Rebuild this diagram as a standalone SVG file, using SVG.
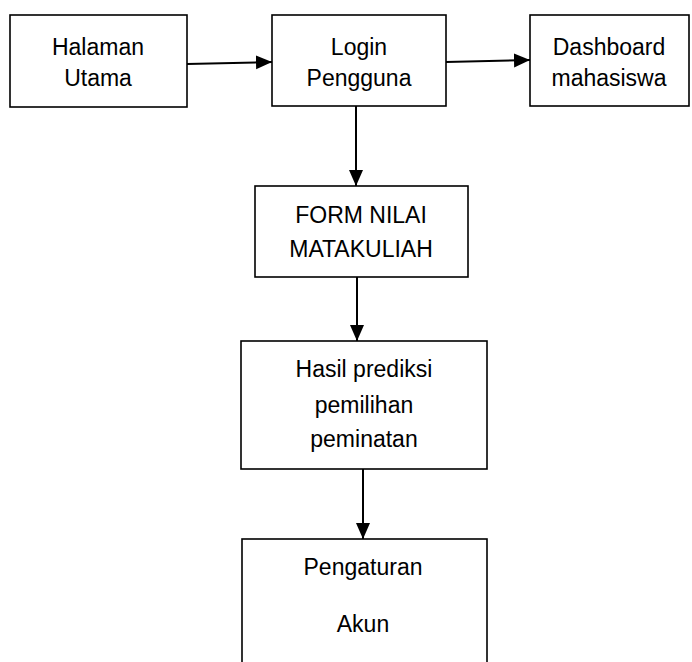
<svg xmlns="http://www.w3.org/2000/svg" width="692" height="662" viewBox="0 0 692 662">
<style>
.box{fill:#fff;stroke:#000;stroke-width:1.6}
.t{font-family:"Liberation Sans",Arial,sans-serif;font-size:23px;fill:#000;text-anchor:middle}
.c{stroke:#000;stroke-width:2;fill:none;marker-end:url(#ah)}
</style>
<defs>
<marker id="ah" markerUnits="userSpaceOnUse" markerWidth="16" markerHeight="16" viewBox="0 0 16 16" refX="16" refY="8" orient="auto">
<path d="M0,1 L16,8 L0,15 Z" fill="#000"/>
</marker>
</defs>
<rect width="692" height="662" fill="#fff"/>
<g id="connectors">
<line class="c" x1="187" y1="64" x2="272" y2="62"/>
<line class="c" x1="446" y1="62" x2="530" y2="60"/>
<line class="c" x1="356" y1="106" x2="356" y2="186"/>
<line class="c" x1="357" y1="277" x2="357" y2="341"/>
<line class="c" x1="363" y1="469" x2="363" y2="539"/>
</g>
<g id="halaman">
<rect class="box" x="10" y="15" width="177" height="92"/>
<text class="t" x="98" y="55">Halaman</text>
<text class="t" x="98" y="86">Utama</text>
</g>
<g id="login">
<rect class="box" x="272" y="15" width="174" height="91"/>
<text class="t" x="359" y="55">Login</text>
<text class="t" x="359" y="86">Pengguna</text>
</g>
<g id="dashboard">
<rect class="box" x="530" y="15" width="159" height="91"/>
<text class="t" x="609" y="55">Dashboard</text>
<text class="t" x="609" y="86">mahasiswa</text>
</g>
<g id="form">
<rect class="box" x="255" y="186" width="213" height="91"/>
<text class="t" x="361" y="223">FORM NILAI</text>
<text class="t" x="361" y="257">MATAKULIAH</text>
</g>
<g id="hasil">
<rect class="box" x="241" y="341" width="246" height="128"/>
<text class="t" x="364" y="377">Hasil prediksi</text>
<text class="t" x="364" y="413">pemilihan</text>
<text class="t" x="364" y="447">peminatan</text>
</g>
<g id="pengaturan">
<rect class="box" x="242" y="539" width="245" height="140"/>
<text class="t" x="363" y="575">Pengaturan</text>
<text class="t" x="363" y="632">Akun</text>
</g>
</svg>
